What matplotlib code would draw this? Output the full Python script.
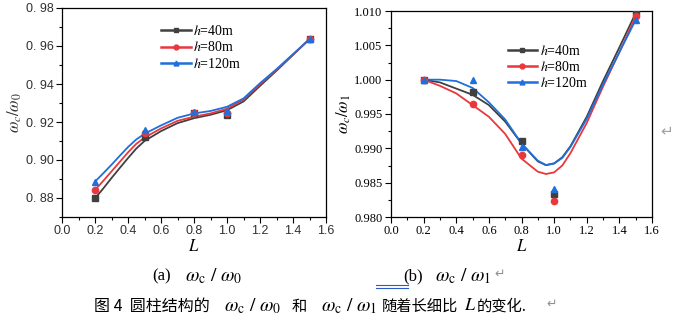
import numpy as np
import matplotlib
matplotlib.use("Agg")
import matplotlib.pyplot as plt
from matplotlib.ticker import MultipleLocator, FuncFormatter

plt.rcParams['mathtext.fontset'] = 'stix'
plt.rcParams['font.family'] = ['Liberation Serif', 'Noto Sans CJK SC', 'DejaVu Sans']

# ---- dane ----
series = ['$h$=40m', '$h$=80m', '$h$=120m']
colors = ['#404040', '#e8383d', '#1f6fdc']
markers = ['s', 'o', '^']

# punkty pomiarowe
pts_L = [0.2, 0.5, 0.8, 1.0, 1.5]
a_pts_40 = [0.8798, 0.9123, 0.9250, 0.9237, 0.9636]
a_pts_80 = [0.8842, 0.9140, 0.9250, 0.9250, 0.9636]
a_pts_120 = [0.8886, 0.9158, 0.9254, 0.9258, 0.9638]

b_pts_40 = [1.0000, 0.9982, 0.9911, 0.9833, 1.0098]
b_pts_80 = [1.0000, 0.9964, 0.9890, 0.9824, 1.0093]
b_pts_120 = [1.0000, 1.0000, 0.9902, 0.9841, 1.0087]

# krzywe dopasowane (odczyt wzdluz linii)
a_curve_L = [0.2, 0.25, 0.3, 0.35, 0.4, 0.45, 0.5, 0.6, 0.7, 0.8, 0.9, 1.0, 1.1, 1.2, 1.3, 1.4, 1.5]
a_curve_40 = [0.8798, 0.8850, 0.8905, 0.8958, 0.9010, 0.9060, 0.9100, 0.9152, 0.9194, 0.9220, 0.9238, 0.9262,
              0.9308, 0.9390, 0.9470, 0.9553, 0.9636]
a_curve_80 = [0.8842, 0.8890, 0.8940, 0.8990, 0.9040, 0.9085, 0.9118, 0.9166, 0.9206, 0.9228, 0.9245, 0.9270,
              0.9318, 0.9398, 0.9475, 0.9555, 0.9636]
a_curve_120 = [0.8886, 0.8930, 0.8975, 0.9022, 0.9068, 0.9108, 0.9138, 0.9182, 0.9222, 0.9245, 0.9258, 0.9280,
               0.9324, 0.9404, 0.9478, 0.9557, 0.9636]

b_curve_L = [0.2, 0.3, 0.4, 0.5, 0.6, 0.7, 0.8, 0.9, 0.95, 1.0, 1.05, 1.1, 1.2, 1.3, 1.4, 1.5]
b_curve_40 = [1.0000, 0.9996, 0.9987, 0.9978, 0.9963, 0.9939, 0.9907, 0.9881, 0.98755,
              0.9878, 0.9887, 0.9903, 0.9946, 0.9998, 1.0047, 1.0097]
b_curve_80 = [1.0000, 0.9991, 0.9980, 0.9963, 0.9946, 0.9921, 0.9885, 0.9866, 0.98626,
              0.9865, 0.9875, 0.9893, 0.9937, 0.9990, 1.0040, 1.0092]
b_curve_120 = [1.0000, 1.0000, 0.9998, 0.9988, 0.9967, 0.9942, 0.9907, 0.9882, 0.98757,
               0.9878, 0.9886, 0.9902, 0.9943, 0.9993, 1.0040, 1.0087]

W, H = 678, 321
fig = plt.figure(figsize=(W / 100, H / 100), dpi=100)


def box(x0, y0, x1, y1):
    # piksele -> wspolrzedne figury
    return [x0 / W, 1 - y1 / H, (x1 - x0) / W, (y1 - y0) / H]


ax1 = fig.add_axes(box(62, 8, 326, 217))
ax2 = fig.add_axes(box(391, 11, 652, 217))

a_curves = [a_curve_40, a_curve_80, a_curve_120]
a_pts = [a_pts_40, a_pts_80, a_pts_120]
b_curves = [b_curve_40, b_curve_80, b_curve_120]
b_pts = [b_pts_40, b_pts_80, b_pts_120]

for ax, cL, curves, pts in [(ax1, a_curve_L, a_curves, a_pts), (ax2, b_curve_L, b_curves, b_pts)]:
    for i in range(3):
        ax.plot(cL, curves[i], color=colors[i], lw=1.3, zorder=2 + i, solid_joinstyle='round')
        ax.plot(pts_L, pts[i], ls='none', marker=markers[i], ms=4.5, color=colors[i], zorder=5 + i)
        # uchwyt do legendy
        ax.plot([], [], color=colors[i], lw=1.8, marker=markers[i], ms=3.5, label=series[i])

# os (a)
ax1.set_xlim(0.0, 1.6)
ax1.set_ylim(0.87, 0.98)
ax1.xaxis.set_major_locator(MultipleLocator(0.2))
ax1.xaxis.set_minor_locator(MultipleLocator(0.1))
ax1.yaxis.set_major_locator(MultipleLocator(0.02))
ax1.yaxis.set_minor_locator(MultipleLocator(0.01))
ax1.yaxis.set_major_formatter(FuncFormatter(lambda v, p: ('%.2f' % v).replace('.', '. ')))
ax1.xaxis.set_major_formatter(FuncFormatter(lambda v, p: '%.1f' % v))
for lab in ax1.get_yticklabels() + ax1.get_xticklabels():
    lab.set_family('Liberation Sans')
    lab.set_color('#303030')
ax1.set_ylabel(r'$\omega_c/\omega_0$', fontsize=12, color='#303030', labelpad=1)
ax1.set_xlabel('$L$', fontsize=12, labelpad=1)

# os (b)
ax2.set_xlim(0.0, 1.6)
ax2.set_ylim(0.980, 1.010)
ax2.xaxis.set_major_locator(MultipleLocator(0.2))
ax2.xaxis.set_minor_locator(MultipleLocator(0.1))
ax2.yaxis.set_major_locator(MultipleLocator(0.005))
ax2.yaxis.set_minor_locator(MultipleLocator(0.0025))
ax2.yaxis.set_major_formatter(FuncFormatter(lambda v, p: '%.3f' % v))
ax2.xaxis.set_major_formatter(FuncFormatter(lambda v, p: '%.1f' % v))
ax2.set_ylabel(r'$\omega_c/\omega_1$', fontsize=12, labelpad=1)
ax2.set_xlabel('$L$', fontsize=12, labelpad=1)

for ax in (ax1, ax2):
    ax.tick_params(which='both', direction='out', top=False, right=False, labelsize=9, pad=2)
    ax.tick_params(which='major', length=4, width=0.8)
    ax.tick_params(which='minor', length=2, width=0.8)
    for s in ax.spines.values():
        s.set_linewidth(0.9)

ax1.legend(loc='upper left', bbox_to_anchor=(0.35, 0.955), frameon=False, fontsize=10,
           handlelength=2.1, handletextpad=0.2, labelspacing=0.15, borderpad=0)
ax2.legend(loc='upper left', bbox_to_anchor=(0.42, 0.875), frameon=False, fontsize=10,
           handlelength=2.1, handletextpad=0.2, labelspacing=0.15, borderpad=0)

# podpisy
def t(x, y, s, **kw):
    fig.text(x / W, 1 - y / H, s, va='center', **kw)

cjk = ['Noto Sans CJK SC']
t(152, 276, '(a)', fontsize=12)
t(185, 276, r'$\omega_{\rm c}\ /\ \omega_0$', fontsize=14)
t(403, 276, '(b)', fontsize=12)
t(435, 276, r'$\omega_{\rm c}\ /\ \omega_1$', fontsize=14)
t(494, 274, '\u21b5', fontsize=9, color='#909090', family='DejaVu Sans')
fig.add_artist(plt.Line2D([376 / W, 408 / W], [1 - 284.5 / H] * 2, color='#2a5cc8', lw=0.8))
fig.add_artist(plt.Line2D([376 / W, 408 / W], [1 - 287.5 / H] * 2, color='#2a5cc8', lw=0.8))

t(94, 306, '图 4  圆柱结构的', fontsize=11.5, family=cjk)
t(224, 306, r'$\omega_{\rm c}\ /\ \omega_0$', fontsize=14)
t(292, 306, '和', fontsize=11, family=cjk)
t(321, 306, r'$\omega_{\rm c}\ /\ \omega_1$', fontsize=14)
t(382, 306, '随着长细比', fontsize=11, family=cjk)
t(464, 306, '$L$', fontsize=13)
t(477, 306, '的变化.', fontsize=11, family=cjk)
t(546, 304, '\u21b5', fontsize=9, color='#909090', family='DejaVu Sans')
t(660, 131, '\u21b5', fontsize=11, color='#a0a0a0', family='DejaVu Sans')

fig.savefig('out.png', dpi=100)
